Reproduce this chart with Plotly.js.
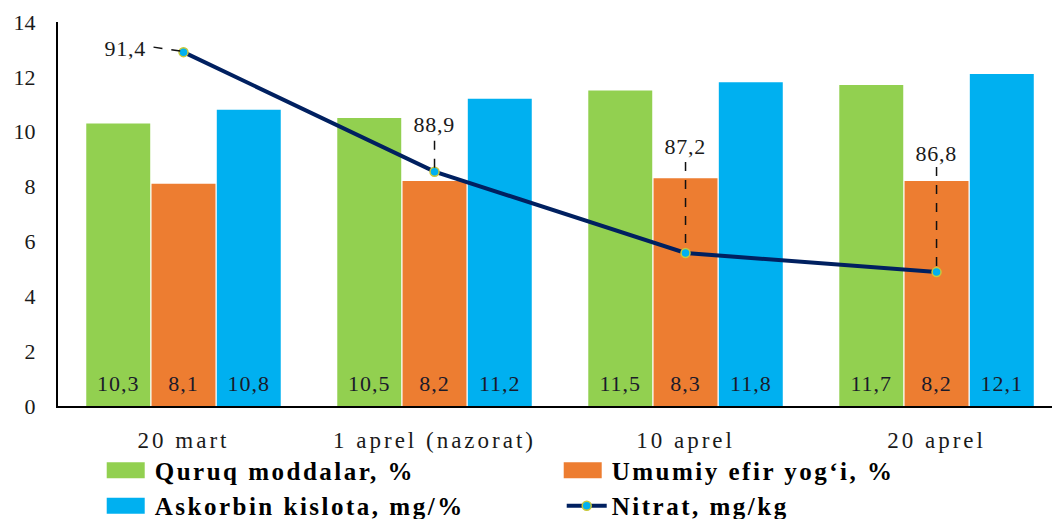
<!DOCTYPE html>
<html><head><meta charset="utf-8">
<script src="https://cdn.plot.ly/plotly-3.0.1.min.js"></script>
<style>
html,body{margin:0;padding:0;background:#fff}
#c{width:1052px;height:519px}
#c .xtick text{letter-spacing:3px}
#c .legendtext{letter-spacing:2.5px}
#c .bartext{letter-spacing:1px;translate:0 -7px}
#c .annotation-text{letter-spacing:0.8px}
#c g.legendpoints path:not(.scatterpts){d:path("M15,8H-23V-8H15Z")}
</style>
</head><body><div id="c"></div>
<script>
const categories = ["20 mart", "1 aprel (nazorat)", "10 aprel", "20 aprel"];
const quruq = [10.3, 10.5, 11.5, 11.7];
const efir = [8.1, 8.2, 8.3, 8.2];
const askorbin = [10.8, 11.2, 11.8, 12.1];
const nitrat = [91.4, 88.9, 87.2, 86.8];
const names = ["Quruq moddalar, %", "Umumiy efir yog‘i, %", "Askorbin kislota, mg/%", "Nitrat, mg/kg"];

const fmt = v => v.toFixed(1).replace('.', ',');
const FONT = "Liberation Serif";

function barTrace(vals, name, color) {
  return {
    type: 'bar', x: categories, y: vals, name: name,
    marker: {color: color},
    text: vals.map(v => fmt(v)),
    textposition: 'inside', insidetextanchor: 'start',
    textfont: {family: FONT, size: 22, color: '#1a1a2a'},
    textangle: 0, hoverinfo: 'skip'
  };
}

const traces = [
  barTrace(quruq, names[0], '#92D050'),
  barTrace(efir, names[1], '#ED7D31'),
  barTrace(askorbin, names[2], '#00B0F0'),
  {
    type: 'scatter', mode: 'lines+markers', x: categories, y: nitrat, yaxis: 'y2', name: names[3],
    line: {color: '#002060', width: 4},
    marker: {color: '#00B0F0', size: 9, line: {color: '#C9C83A', width: 1.5}},
    hoverinfo: 'skip'
  }
];

const lblOff = [[-58, 4], [0, 47], [0, 106], [0, 119]];
const leadOff = [[[-30, 5], [-3, 1]], [[0, 31], [0, 2]], [[0, 91], [0, 2]], [[0, 105], [0, 2]]];

const annotations = nitrat.map((v, i) => ({
  x: categories[i], y: v, xref: 'x', yref: 'y2', text: fmt(v), showarrow: false,
  xshift: lblOff[i][0], yshift: lblOff[i][1],
  font: {family: FONT, size: 22, color: '#1a1a1a'}
}));

const shapes = nitrat.map((v, i) => ({
  type: 'line', xref: 'x', yref: 'y2', xsizemode: 'pixel', ysizemode: 'pixel',
  xanchor: i, yanchor: v,
  x0: leadOff[i][0][0], y0: leadOff[i][0][1], x1: leadOff[i][1][0], y1: leadOff[i][1][1],
  line: {color: '#111', width: 1.5, dash: 'dash'}
}));

const layout = {
  width: 1052, height: 519,
  margin: {l: 58, r: 0, t: 22, b: 113, autoexpand: false},
  paper_bgcolor: '#fff', plot_bgcolor: '#fff',
  font: {family: FONT, color: '#1a1a1a'},
  barmode: 'group', bargap: 0.22, bargroupgap: 0.02,
  showlegend: true,
  xaxis: {
    type: 'category', range: [-0.5, 3.46], showgrid: false, zeroline: false,
    showline: true, linecolor: '#000', linewidth: 2, ticks: '',
    tickfont: {family: FONT, size: 23, color: '#1a1a1a'}, ticklabelstandoff: 12
  },
  yaxis: {
    range: [0, 14], dtick: 2, showgrid: false, zeroline: false,
    showline: true, linecolor: '#000', linewidth: 2, ticks: '',
    tickfont: {family: FONT, size: 22, color: '#1a1a1a'}, ticklabelstandoff: 16
  },
  yaxis2: {
    overlaying: 'y', side: 'right', range: [84, 92.03], visible: false, showgrid: false
  },
  legend: {
    orientation: 'h', x: 0.047, xanchor: 'left', y: -0.108, yanchor: 'top',
    bgcolor: 'rgba(0,0,0,0)',
    entrywidth: 402, entrywidthmode: 'pixels', traceorder: 'normal',
    font: {family: FONT, size: 25, color: '#000', weight: 'bold'},
    itemwidth: 40, tracegroupgap: 0
  },
  annotations: annotations,
  shapes: shapes
};

Plotly.newPlot('c', traces, layout, {staticPlot: true, displayModeBar: false});
</script></body></html>
